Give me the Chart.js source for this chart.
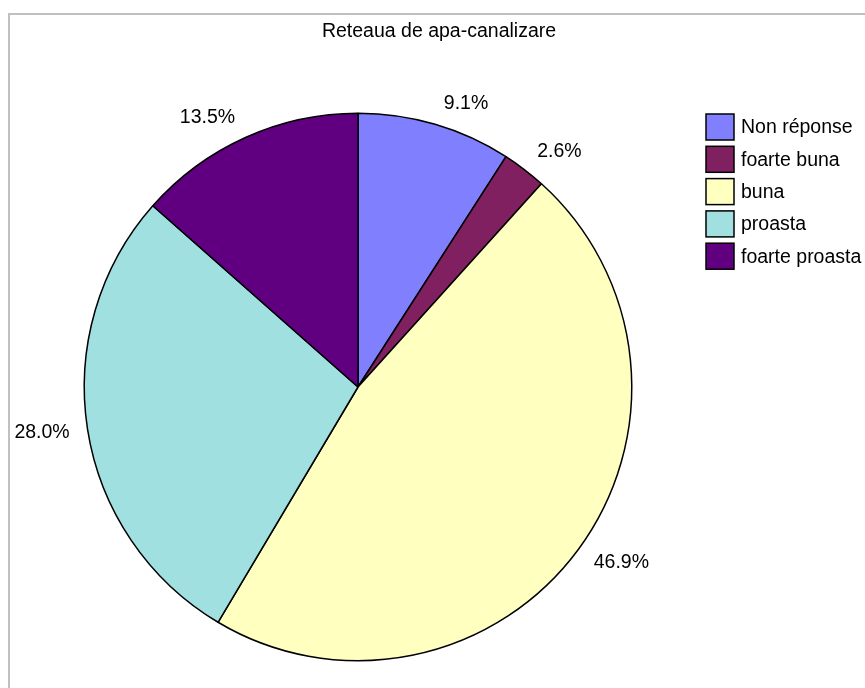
<!DOCTYPE html>
<html>
<head>
<meta charset="utf-8">
<title>Reteaua de apa-canalizare</title>
<script src="https://cdn.jsdelivr.net/npm/chart.js@4.4.0/dist/chart.umd.min.js"></script>
<style>
    html, body { margin: 0; padding: 0; background: #fff; }
    #wrap { width: 865px; height: 688px; position: relative; }
</style>
</head>
<body>
<div id="wrap"><canvas id="myChart" width="865" height="688"></canvas></div>
<script>
const chartTitle = 'Reteaua de apa-canalizare'
const categories = ['Non réponse', 'foarte buna', 'buna', 'proasta', 'foarte proasta']
const percents = [9.1, 2.6, 46.9, 28.0, 13.5]
const sliceColors = ['#8080FF', '#802060', '#FFFFC0', '#A0E0E0', '#600080']

const FONT = '19.5px "Liberation Sans", Arial, sans-serif'

// grey frame round the chart, like the sheet's chart object
const framePlugin = {
    id: 'frame',
    beforeDraw(chart) {
        const ctx = chart.ctx
        ctx.save()
        ctx.fillStyle = '#fff'
        ctx.fillRect(0, 0, chart.width, chart.height)
        ctx.strokeStyle = '#c0c0c0'
        ctx.lineWidth = 2
        ctx.strokeRect(9, 14, chart.width + 20, chart.height + 20)
        ctx.restore()
    }
}

// title, outside-end percentage labels and the legend on the right
const textPlugin = {
    id: 'texts',
    afterDraw(chart) {
        const ctx = chart.ctx
        const meta = chart.getDatasetMeta(0)
        ctx.save()
        ctx.font = FONT
        ctx.fillStyle = '#000'
        ctx.textBaseline = 'middle'

        ctx.textAlign = 'center'
        ctx.fillText(chartTitle, 439, 32)

        meta.data.forEach((arc, i) => {
            const mid = (arc.startAngle + arc.endAngle) / 2
            const r = arc.outerRadius + 13
            const s = Math.cos(mid)
            const c = Math.sin(mid)
            const side = s >= 0 ? 1 : -1
            const x = arc.x + r * s + 5 * side
            const y = arc.y + r * c + 9 * c
            ctx.textAlign = side > 0 ? 'left' : 'right'
            ctx.fillText(percents[i].toFixed(1) + '%', x, y)
        })

        const boxX = 706, boxW = 28, boxH = 26, top = 127, step = 32.3
        categories.forEach((name, i) => {
            const cy = top + i * step
            ctx.fillStyle = sliceColors[i]
            ctx.fillRect(boxX, cy - boxH / 2, boxW, boxH)
            ctx.strokeStyle = '#000'
            ctx.lineWidth = 1.5
            ctx.strokeRect(boxX, cy - boxH / 2, boxW, boxH)
            ctx.fillStyle = '#000'
            ctx.textAlign = 'left'
            ctx.fillText(name, boxX + 35, cy + 1)
        })
        ctx.restore()
    }
}

new Chart(document.getElementById('myChart'), {
    type: 'pie',
    data: {
        labels: categories,
        datasets: [{
            data: percents,
            backgroundColor: sliceColors,
            borderColor: '#000',
            borderWidth: 1.5
        }]
    },
    options: {
        responsive: false,
        animation: false,
        layout: {
            padding: { left: 83.5, top: 112.5, right: 232.5, bottom: 26.5 }
        },
        plugins: {
            legend: { display: false },
            title: { display: false },
            tooltip: { enabled: false }
        }
    },
    plugins: [framePlugin, textPlugin]
})
</script>
</body>
</html>
